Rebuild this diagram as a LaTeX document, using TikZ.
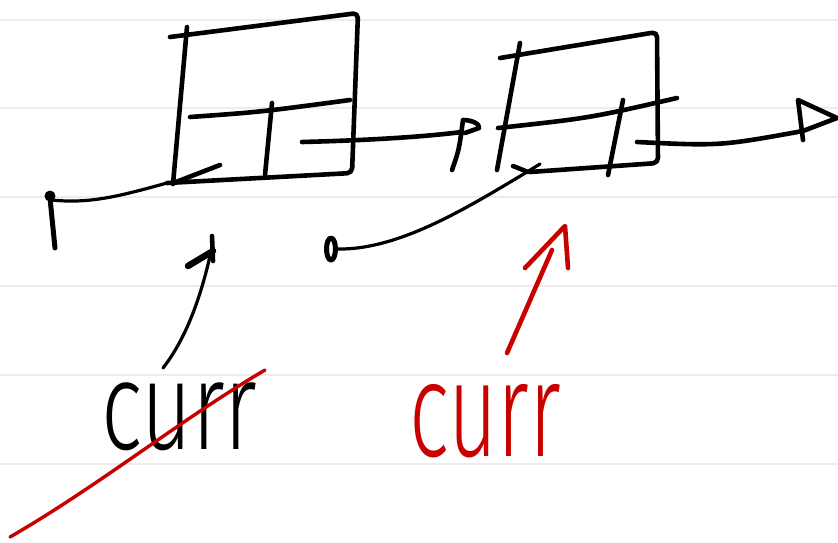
\documentclass[tikz,border=0pt]{standalone}
\usepackage{fontspec}
\usepackage{graphicx}
\newfontfamily\hand{Fira Sans Light}
\definecolor{inkred}{RGB}{200,0,0}
\definecolor{rulegray}{RGB}{236,236,236}
\begin{document}
\begin{tikzpicture}[x=1pt,y=-1pt,
  pen/.style={line width=4.6pt, line cap=round, line join=round, draw=black},
  thinpen/.style={line width=3.2pt, line cap=round, line join=round, draw=black},
  redpen/.style={line width=4.6pt, line cap=round, line join=round, draw=inkred},
  rule/.style={line width=1.2pt, draw=rulegray},
  label/.style={anchor=base west, inner sep=0pt, font=\hand\fontsize{125}{125}\selectfont}]
\useasboundingbox (0,0) rectangle (838,542);

% ruled paper
\foreach \y in {20,108,197,286,375,464}
  \draw[rule] (0,\y) -- (838,\y);

% ---- first list node ----
\coordinate (n1tl) at (170,37);
\coordinate (n1tr) at (358,13);
\coordinate (n1br) at (352,173);
\coordinate (n1bl) at (167,183);
\draw[pen, rounded corners=5pt] (n1tl) -- (n1tr) -- (n1br) -- (n1bl);
\draw[pen] (187,27) -- (173,184);
\draw[pen] (190,117) .. controls (260,112) .. (350,100);
\draw[pen] (272,103) -- (265,175);
\draw[pen] (220,165) -- (176,182);

% null end on the left (prev of first node)
\coordinate (nullA) at (52,200);
\fill (50,196) circle (5.5pt);
\draw[pen, line width=5pt] (50,198) -- (55,248);
\draw[thinpen] (n1bl) .. controls (120,196) and (90,204) .. (nullA);

% next pointer of first node
\coordinate (n1next) at (302,142);
\coordinate (head1) at (462,132);
\draw[pen] (n1next) .. controls (380,140) and (430,136) .. (head1);
\draw[pen] (452,170) .. controls (459,150) .. (463,120) .. controls (472,120) and (480,124) .. (479,128) -- (465,133);

% ---- second list node ----
\coordinate (n2tl) at (500,58);
\coordinate (n2tr) at (657,32);
\coordinate (n2br) at (658,163);
\coordinate (n2bl) at (530,172);
\draw[pen, rounded corners=5pt] (n2tl) -- (n2tr) -- (n2br) -- (n2bl);
\draw[pen] (520,43) -- (497,170);
\draw[pen] (498,128) .. controls (590,118) .. (677,98);
\draw[pen] (623,100) -- (608,175);
\draw[pen] (513,166) -- (528,172);

% prev pointer of second node
\coordinate (null2) at (338,249);
\draw[thinpen] (540,164) -- (527,172) .. controls (470,206) and (400,250) .. (null2);
\draw[pen, line width=5pt] (331,249) ellipse [x radius=4.5, y radius=11];

% next pointer of second node
\coordinate (n2next) at (637,142);
\coordinate (head2) at (803,131);
\draw[pen] (n2next) .. controls (720,146) .. (head2);
\draw[pen] (803,140) -- (798,100) -- (837,118) -- (803,131);

% ---- curr labels ----
\node[label] (curr1) at (101,449) {\scalebox{0.7}[1]{curr}};
\node[label, text=inkred] (curr2) at (409,456) {\scalebox{0.68}[1.08]{curr}};

% old curr pointer into the first node
\coordinate (c1from) at (163,368);
\coordinate (c1tip) at (212,236);
\draw[thinpen] (c1from) .. controls (185,340) and (200,300) .. (210,256);
\draw[pen, line width=6.5pt] (188,266) -- (213,251);
\draw[pen] (c1tip) -- (213,261);

% crossing out the old label
\draw[line width=3.4pt, line cap=round, draw=inkred] (10,537) .. controls (100,485) and (180,420) .. (265,370);

% new curr pointer into the second node
\coordinate (c2from) at (507,353);
\coordinate (c2tip) at (565,226);
\draw[redpen] (c2from) -- (552,250);
\draw[redpen] (525,268) -- (c2tip) -- (568,268);
\end{tikzpicture}
\end{document}
